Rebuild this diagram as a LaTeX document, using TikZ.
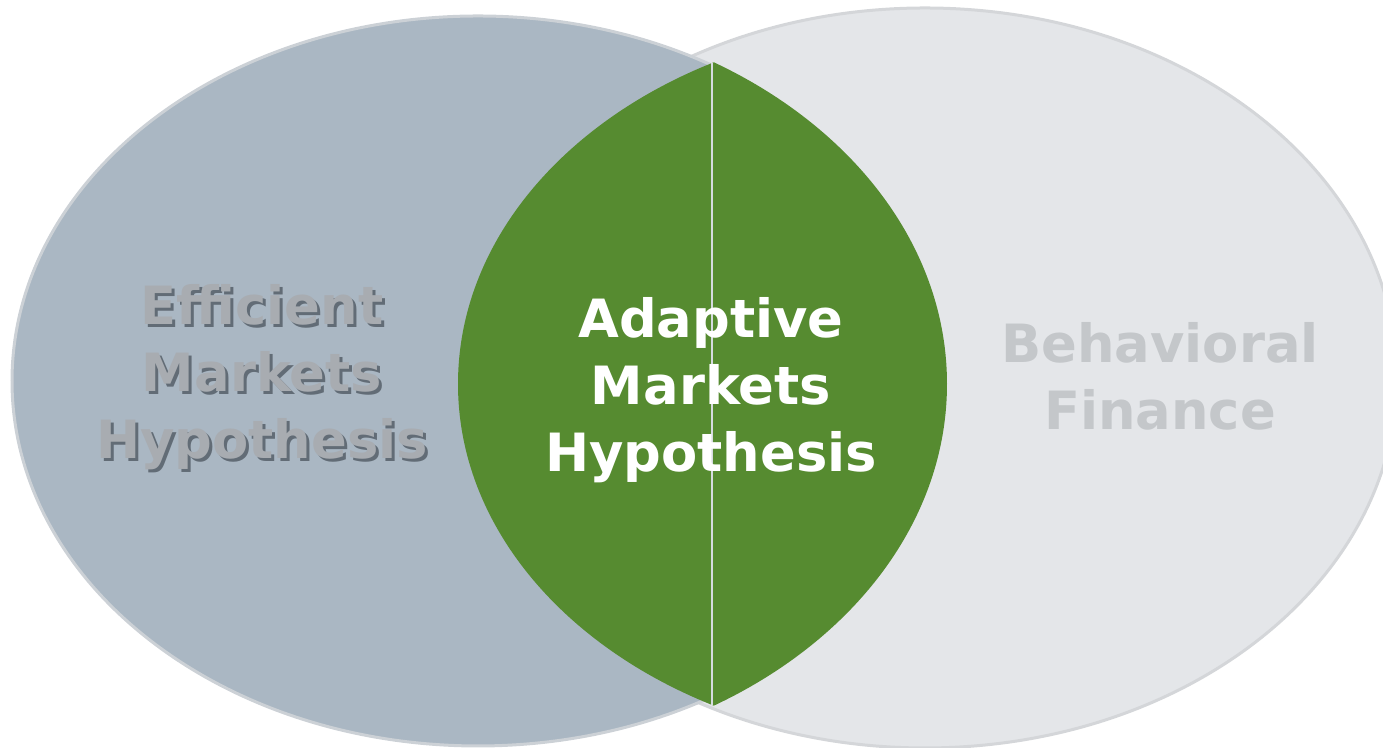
\documentclass[tikz,border=0pt]{standalone}
\usepackage{fontspec}
\setmainfont{DejaVu Sans}
\usepackage{tikz}
\usepackage{xcolor}
\definecolor{emhblue}{RGB}{170,183,195}
\definecolor{emhrim}{RGB}{204,209,214}
\definecolor{emhtext}{RGB}{168,172,177}
\definecolor{emhshade}{RGB}{98,108,118}
\definecolor{bfgray}{RGB}{228,230,233}
\definecolor{bfrim}{RGB}{212,214,217}
\definecolor{bftext}{RGB}{196,199,202}
\definecolor{amhgreen}{RGB}{86,139,48}
\definecolor{seamgray}{RGB}{214,219,224}

\begin{document}
\begin{tikzpicture}[x=0.1mm, y=0.1mm,
    every node/.style={font=\fontsize{15}{19}\selectfont\bfseries, align=center, inner sep=0pt},
    venntext/.style={text=#1}]
        \clip (0,0) rectangle (1383,748);

        % Behavioral finance set (right) and EMH set (left)
        \draw[bfrim, line width=0.3mm, fill=bfgray] (925,370) ellipse (472 and 370);
        \draw[emhrim, line width=0.3mm, fill=emhblue] (478,367) ellipse (466 and 365);

        % overlap lens
        \begin{scope}
          \clip (931,364) ellipse (473 and 362);
          \fill[amhgreen] (467,364) ellipse (480 and 375);
        \end{scope}
        \coordinate (lenstop) at (712,685);
        \coordinate (lensbot) at (712,43);
        \draw[seamgray, line width=0.15mm] (lenstop) -- (lensbot);

        % set labels
        \node[venntext=emhshade] (emhshadow) at (265,368) {Efficient\\Markets\\Hypothesis};
        \node[venntext=emhtext] (emh) at (262,371) {Efficient\\Markets\\Hypothesis};
        \node[venntext=white] (amh) at (711,358) {Adaptive\\Markets\\Hypothesis};
        \node[venntext=bftext] (bf) at (1160,372) {Behavioral\\Finance};
      \end{tikzpicture}
\end{document}
